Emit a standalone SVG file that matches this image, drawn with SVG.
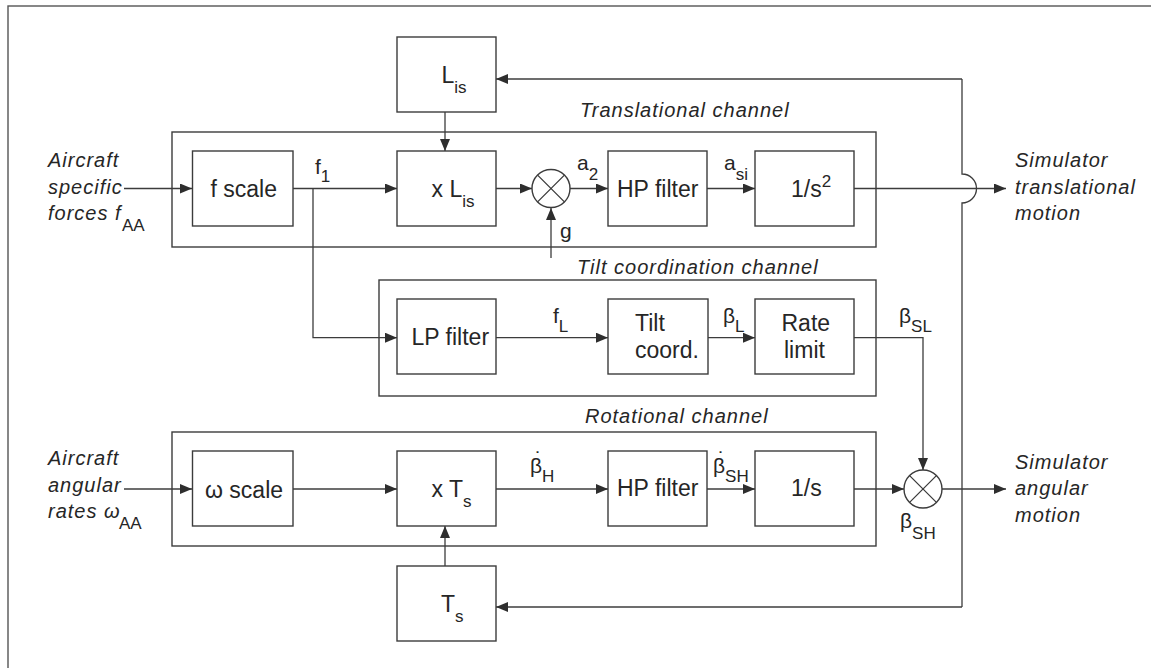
<svg xmlns="http://www.w3.org/2000/svg" width="1151" height="668" viewBox="0 0 1151 668">
<style>
.box{fill:none;stroke:#3c3c3c;stroke-width:1.4}
.ch{fill:none;stroke:#3c3c3c;stroke-width:1.4}
.ln{fill:none;stroke:#3c3c3c;stroke-width:1.3}
.t{font-family:"Liberation Sans",Arial,sans-serif;font-size:23px;fill:#262626}
.lb{font-family:"Liberation Sans",Arial,sans-serif;font-size:21px;fill:#262626}
.sub{font-size:17px}
.it{font-family:"Liberation Sans",Arial,sans-serif;font-size:20px;font-style:italic;letter-spacing:1px;fill:#262626}
.sb{font-family:"Liberation Sans",Arial,sans-serif;font-size:17px;fill:#262626}
</style>
<defs>
<marker id="ar" markerUnits="userSpaceOnUse" markerWidth="12" markerHeight="10" refX="12" refY="5" orient="auto">
<path d="M0,0 L12,5 L0,10 z" fill="#2e2e2e"/>
</marker>
</defs>
<rect x="0" y="0" width="1151" height="668" fill="#fff"/>
<rect id="frame" x="8" y="6" width="1200" height="700" fill="none" stroke="#555" stroke-width="1.4"/>

<g id="channels">
<rect class="ch" x="172" y="132" width="704" height="115"/>
<rect class="ch" x="379" y="280" width="497" height="116"/>
<rect class="ch" x="172" y="432" width="704" height="114"/>
<text class="it" x="580" y="117">Translational channel</text>
<text class="it" x="577" y="274">Tilt coordination channel</text>
<text class="it" x="585" y="423">Rotational channel</text>
</g>

<g id="connectors">
<line class="ln" x1="124" y1="188.5" x2="192" y2="188.5" marker-end="url(#ar)"/>
<line class="ln" x1="293" y1="188.5" x2="397" y2="188.5" marker-end="url(#ar)"/>
<polyline class="ln" points="313,188.5 313,337.7 397,337.7" marker-end="url(#ar)"/>
<line class="ln" x1="445" y1="112" x2="445" y2="151" marker-end="url(#ar)"/>
<line class="ln" x1="496" y1="188.5" x2="532" y2="188.5" marker-end="url(#ar)"/>
<line class="ln" x1="551" y1="258" x2="551" y2="208" marker-end="url(#ar)"/>
<line class="ln" x1="570" y1="188.5" x2="608" y2="188.5" marker-end="url(#ar)"/>
<line class="ln" x1="707" y1="188.5" x2="755" y2="188.5" marker-end="url(#ar)"/>
<line class="ln" x1="854" y1="188.5" x2="1006" y2="188.5" marker-end="url(#ar)"/>
<line class="ln" x1="962" y1="79" x2="496" y2="79" marker-end="url(#ar)"/>
<path class="ln" d="M962,79 L962,174 A14.5,14.5 0 0 1 962,203 L962,607"/>
<line class="ln" x1="962" y1="607" x2="496" y2="607" marker-end="url(#ar)"/>
<line class="ln" x1="496" y1="337.7" x2="608" y2="337.7" marker-end="url(#ar)"/>
<line class="ln" x1="708" y1="337.7" x2="755" y2="337.7" marker-end="url(#ar)"/>
<polyline class="ln" points="854,337.7 923,337.7 923,470" marker-end="url(#ar)"/>
<line class="ln" x1="124" y1="489" x2="192" y2="489" marker-end="url(#ar)"/>
<line class="ln" x1="293" y1="489" x2="397" y2="489" marker-end="url(#ar)"/>
<line class="ln" x1="496" y1="489" x2="608" y2="489" marker-end="url(#ar)"/>
<line class="ln" x1="707" y1="489" x2="755" y2="489" marker-end="url(#ar)"/>
<line class="ln" x1="854" y1="489" x2="904" y2="489" marker-end="url(#ar)"/>
<line class="ln" x1="942" y1="489" x2="1006" y2="489" marker-end="url(#ar)"/>
<line class="ln" x1="445" y1="566" x2="445" y2="526" marker-end="url(#ar)"/>
</g>

<g id="signal-labels">
<text class="lb" x="315" y="174">f<tspan class="sub" dx="0" dy="8">1</tspan></text>
<text class="lb" x="577" y="170">a<tspan class="sub" dy="10">2</tspan></text>
<text class="lb" x="724" y="170">a<tspan class="sub" dy="10">si</tspan></text>
<text class="lb" x="560" y="238">g</text>
<text class="lb" x="553" y="323">f<tspan class="sub" dy="9">L</tspan></text>
<text class="lb" x="723" y="323">β<tspan class="sub" dy="9">L</tspan></text>
<text class="lb" x="899" y="323">β<tspan class="sub" dy="9">SL</tspan></text>
<text class="lb" x="530" y="473"><tspan x="535" y="466">˙</tspan><tspan x="530" y="473">β</tspan><tspan class="sub" dy="9">H</tspan></text>
<text class="lb" x="713" y="473"><tspan x="718" y="466">˙</tspan><tspan x="713" y="473">β</tspan><tspan class="sub" dy="9">SH</tspan></text>
<text class="lb" x="900" y="528">β<tspan class="sub" dy="11">SH</tspan></text>
</g>

<g id="io-labels">
<text class="it" x="48" y="167">Aircraft</text>
<text class="it" x="48" y="193.5">specific</text>
<text class="it" x="48" y="220">forces f</text>
<text class="sb" x="122" y="231">AA</text>
<text class="it" x="48" y="465">Aircraft</text>
<text class="it" x="48" y="492">angular</text>
<text class="it" x="48" y="518">rates ω</text>
<text class="sb" x="119" y="529">AA</text>
<text class="it" x="1015" y="167">Simulator</text>
<text class="it" x="1015" y="194">translational</text>
<text class="it" x="1015" y="220">motion</text>
<text class="it" x="1015" y="469">Simulator</text>
<text class="it" x="1015" y="495">angular</text>
<text class="it" x="1015" y="522">motion</text>
</g>

<g id="n-fscale"><rect class="box" x="192.5" y="151" width="100.5" height="75"/><text class="t" x="210.5" y="197">f scale</text></g>
<g id="n-Lis"><rect class="box" x="397" y="37" width="99" height="75"/><text class="t" x="441.5" y="83">L<tspan class="sub" dy="10">is</tspan></text></g>
<g id="n-xLis"><rect class="box" x="397" y="151" width="99" height="75"/><text class="t" x="431.5" y="197">x L<tspan class="sub" dy="10">is</tspan></text></g>
<g id="n-sum1"><circle class="box" cx="551" cy="188.5" r="19"/><path class="ln" d="M537.6,175.1 L564.4,201.9 M564.4,175.1 L537.6,201.9"/></g>
<g id="n-hp1"><rect class="box" x="608" y="151" width="99" height="75"/><text class="t" x="617" y="197">HP filter</text></g>
<g id="n-int2"><rect class="box" x="755" y="151" width="99" height="75"/><text class="t" x="791" y="197">1/s<tspan class="sub" dy="-10">2</tspan></text></g>
<g id="n-lp"><rect class="box" x="397" y="299" width="99" height="75"/><text class="t" x="411.5" y="345">LP filter</text></g>
<g id="n-tilt"><rect class="box" x="608" y="299" width="100" height="75"/><text class="t" x="635" y="330.5">Tilt</text><text class="t" x="635" y="357.5">coord.</text></g>
<g id="n-rate"><rect class="box" x="755" y="299" width="99" height="75"/><text class="t" x="781.5" y="331">Rate</text><text class="t" x="784" y="358">limit</text></g>
<g id="n-wscale"><rect class="box" x="192.5" y="451" width="100.5" height="75"/><text class="t" x="205" y="497.5">ω scale</text></g>
<g id="n-xTs"><rect class="box" x="397" y="451" width="99" height="75"/><text class="t" x="431.5" y="497">x T<tspan class="sub" dy="10">s</tspan></text></g>
<g id="n-hp2"><rect class="box" x="608" y="451" width="99" height="75"/><text class="t" x="617" y="496">HP filter</text></g>
<g id="n-int1"><rect class="box" x="755" y="451" width="99" height="75"/><text class="t" x="791" y="496">1/s</text></g>
<g id="n-sum2"><circle class="box" cx="923" cy="489" r="19"/><path class="ln" d="M909.6,475.6 L936.4,502.4 M936.4,475.6 L909.6,502.4"/></g>
<g id="n-Ts"><rect class="box" x="397" y="566" width="99" height="75"/><text class="t" x="441" y="611.5">T<tspan class="sub" dy="10">s</tspan></text></g>
</svg>
